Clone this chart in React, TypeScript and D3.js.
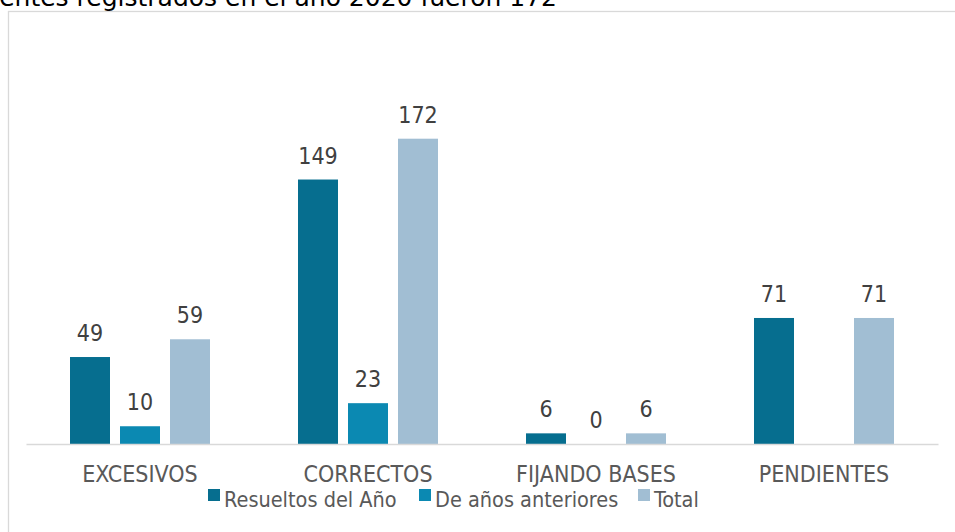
import { useEffect, useRef } from "react";
import * as d3 from "d3";

const categories = ["EXCESIVOS", "CORRECTOS", "FIJANDO BASES", "PENDIENTES"];
const seriesNames = ["Resueltos del Año", "De años anteriores", "Total"];
const resueltos = [49, 149, 6, 71];
const anteriores = [10, 23, 0, null];
const total = [59, 172, 6, 71];
const colors = ["#066e8f", "#0b89b2", "#a1bed3"];
const title = "Los expedientes registrados en el año 2020 fueron 172";

const App = () => {
  const chartRef = useRef<SVGSVGElement | null>(null);

  useEffect(() => {
    document.body.style.margin = "0";
    if (!chartRef.current) return;
    const svg = d3.select(chartRef.current);
    svg.selectAll("*").remove();

    const font = "'DejaVu Sans Condensed', 'DejaVu Sans', sans-serif";

    // frame + title (cut by the top edge, as in the source)
    svg
      .append("rect")
      .attr("x", 8.5)
      .attr("y", 11.5)
      .attr("width", 1000)
      .attr("height", 600)
      .attr("fill", "#fff")
      .attr("stroke", "#d9d9d9")
      .attr("stroke-width", 1.3);

    svg
      .append("text")
      .attr("x", 557)
      .attr("y", 6)
      .attr("text-anchor", "end")
      .style("font-family", "'DejaVu Sans', sans-serif")
      .style("font-size", "25px")
      .style("fill", "#000")
      .text(title);

    const left = 26;
    const right = 938;
    const base = 444;

    const x0 = d3.scaleBand().domain(categories).range([left, right]);
    const x1 = d3
      .scaleBand()
      .domain(seriesNames)
      .range([44, 184])
      .paddingInner(0.2)
      .paddingOuter(0);
    const y = d3.scaleLinear().domain([0, 200]).range([base, base - 355]);

    const rows = categories.map((c, i) => ({
      cat: c,
      vals: [resueltos[i], anteriores[i], total[i]],
    }));

    const g = svg.append("g");

    rows.forEach((row) => {
      row.vals.forEach((v, j) => {
        if (v === null) return;
        const bx = x0(row.cat)! + x1(seriesNames[j])!;
        g.append("rect")
          .attr("x", bx)
          .attr("y", y(v))
          .attr("width", x1.bandwidth())
          .attr("height", base - y(v))
          .attr("fill", colors[j]);
        g.append("text")
          .attr("x", bx + x1.bandwidth() / 2)
          .attr("y", y(v) - 16)
          .attr("text-anchor", "middle")
          .style("font-family", font)
          .style("font-size", "23px")
          .style("fill", "#404040")
          .text(v);
      });
    });

    // axis
    const axis = svg
      .append("g")
      .attr("transform", `translate(0,${base})`)
      .call(d3.axisBottom(x0).tickSize(0).tickPadding(22));
    axis.select(".domain").attr("stroke", "#d9d9d9").attr("stroke-width", 1.5);
    axis
      .selectAll("text")
      .style("font-family", font)
      .style("font-size", "23px")
      .style("fill", "#595959");

    // legend
    const legendX = [208, 419, 638];
    seriesNames.forEach((name, i) => {
      const lg = svg.append("g").attr("transform", `translate(${legendX[i]},489)`);
      lg.append("rect").attr("width", 12).attr("height", 12).attr("fill", colors[i]);
      lg.append("text")
        .attr("x", 16)
        .attr("y", 18)
        .style("font-family", font)
        .style("font-size", "21.5px")
        .style("fill", "#595959")
        .text(name);
    });
  }, []);

  return <svg ref={chartRef} width={955} height={532} style={{ display: "block" }} />;
};

export default App;
